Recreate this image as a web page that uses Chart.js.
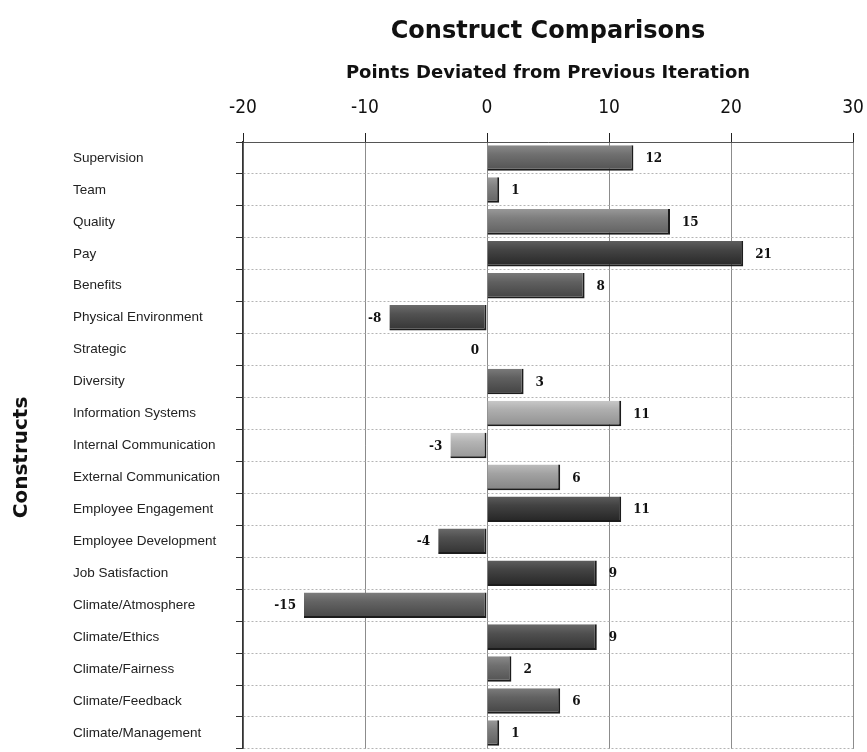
<!DOCTYPE html>
<html>
<head>
<meta charset="utf-8">
<script src="https://cdn.jsdelivr.net/npm/chart.js@4.4.1/dist/chart.umd.min.js"></script>
<style>
  html, body { margin: 0; padding: 0; background: #fff; overflow: hidden; }
  canvas { display: block; }
</style>
</head>
<body>
<canvas id="chart" width="867" height="760"></canvas>
<script>
// Constructs and their point change against the previous survey iteration
const constructs = [
  'Supervision', 'Team', 'Quality', 'Pay', 'Benefits', 'Physical Environment',
  'Strategic', 'Diversity', 'Information Systems', 'Internal Communication',
  'External Communication', 'Employee Engagement', 'Employee Development',
  'Job Satisfaction', 'Climate/Atmosphere', 'Climate/Ethics', 'Climate/Fairness',
  'Climate/Feedback', 'Climate/Management'
];
const deviations = [12, 1, 15, 21, 8, -8, 0, 3, 11, -3, 6, 11, -4, 9, -15, 9, 2, 6, 1];
const xTicks = [-20, -10, 0, 10, 20, 30];

// Grey tone of each bar (bottom edge colour of its gradient)
const barShades = [
  '#585858', '#6a6a6a', '#666666', '#2c2c2c', '#484848', '#3a3a3a',
  '#555555', '#484848', '#969696', '#9c9c9c', '#8a8a8a', '#2a2a2a',
  '#383838', '#2c2c2c', '#4c4c4c', '#383838', '#585858', '#4a4a4a', '#666666'
];

function shade(hex, amt) {
  const n = parseInt(hex.slice(1), 16);
  const c = v => Math.max(0, Math.min(255, v + amt));
  const r = c(n >> 16), g = c((n >> 8) & 255), b = c(n & 255);
  return `rgb(${r},${g},${b})`;
}

const BAR_PCT = 0.8;

// Each bar gets a soft top-to-bottom gradient
function barFill(ctx) {
  const chart = ctx.chart;
  const base = barShades[ctx.dataIndex];
  const y = chart.scales && chart.scales.y;
  if (!chart.chartArea || !y) return base;
  const mid = y.getPixelForValue(ctx.dataIndex);
  const half = Math.abs(y.getPixelForValue(1) - y.getPixelForValue(0)) * BAR_PCT / 2;
  const g = chart.ctx.createLinearGradient(0, mid - half, 0, mid + half);
  g.addColorStop(0, shade(base, 50));
  g.addColorStop(0.35, shade(base, 24));
  g.addColorStop(1, shade(base, -6));
  return g;
}

// Value printed beside the end of each bar
const valueLabels = {
  id: 'valueLabels',
  afterDatasetsDraw(chart) {
    const ctx = chart.ctx;
    const meta = chart.getDatasetMeta(0);
    ctx.save();
    ctx.font = 'bold 12px "DejaVu Serif", serif';
    ctx.fillStyle = '#111';
    ctx.textBaseline = 'middle';
    meta.data.forEach((bar, i) => {
      const v = deviations[i];
      if (v > 0) {
        ctx.textAlign = 'left';
        ctx.fillText(String(v), bar.x + 12, bar.y + 1);
      } else {
        ctx.textAlign = 'right';
        ctx.fillText(String(v), bar.x - 8, bar.y + 1);
      }
    });
    ctx.restore();
  }
};

// Rotated category-axis caption at the far left
const sideCaption = {
  id: 'sideCaption',
  afterDraw(chart) {
    const ctx = chart.ctx;
    const area = chart.chartArea;
    ctx.save();
    ctx.translate(22, (area.top + area.bottom) / 2 + 12);
    ctx.rotate(-Math.PI / 2);
    ctx.font = 'bold 20px "DejaVu Sans", sans-serif';
    ctx.fillStyle = '#111';
    ctx.textAlign = 'center';
    ctx.textBaseline = 'middle';
    ctx.fillText('Constructs', 0, 0);
    ctx.restore();
  }
};

new Chart(document.getElementById('chart'), {
  type: 'bar',
  data: {
    labels: constructs,
    datasets: [{
      data: deviations,
      backgroundColor: barFill,
      borderColor: '#1c1c1c',
      borderWidth: { top: 0, left: 0, right: 2, bottom: 2 },
      borderSkipped: false,
      barPercentage: BAR_PCT,
      categoryPercentage: 1
    }]
  },
  options: {
    indexAxis: 'y',
    responsive: false,
    animation: false,
    layout: { padding: { left: 73, right: 14, top: 0, bottom: 3 } },
    plugins: {
      legend: { display: false },
      tooltip: { enabled: false },
      title: {
        display: true,
        fullSize: false,
        text: 'Construct Comparisons',
        color: '#111',
        font: { family: '"DejaVu Sans", sans-serif', size: 24, weight: 'bold', lineHeight: 1.2 },
        padding: { top: 17.6, bottom: 4 }
      }
    },
    scales: {
      x: {
        position: 'top',
        min: -20,
        max: 30,
        afterBuildTicks: s => { s.ticks = xTicks.map(v => ({ value: v })); },
        afterFit: s => {
          s.height = 142 - 50.4;
          s.paddingLeft = 0;
          s.paddingRight = 0;
        },
        title: {
          display: true,
          text: 'Points Deviated from Previous Iteration',
          color: '#111',
          font: { family: '"DejaVu Sans", sans-serif', size: 18, weight: 'bold', lineHeight: 1.2 },
          padding: { top: 11.8, bottom: 0 }
        },
        ticks: {
          color: '#111',
          font: { family: '"DejaVu Sans Condensed", "Liberation Sans Narrow", "DejaVu Sans", sans-serif', size: 19 },
          padding: 13.6,
          maxRotation: 0
        },
        grid: {
          color: '#8c8c8c',
          lineWidth: 1,
          tickColor: '#222',
          tickLength: 9
        },
        border: { display: true, color: '#555', width: 1 }
      },
      y: {
        afterFit: s => { s.width = 243 - 73; },
        ticks: {
          color: '#222',
          crossAlign: 'far',
          autoSkip: false,
          font: { family: '"Liberation Sans", Arial, sans-serif', size: 13.5 }
        },
        grid: {
          color: '#b4b4b4',
          lineWidth: 1,
          tickColor: '#333',
          tickLength: 7,
          offset: true
        },
        border: { display: true, color: '#333', width: 1.5, dash: [2, 2] }
      }
    }
  },
  plugins: [valueLabels, sideCaption]
});
</script>
</body>
</html>
